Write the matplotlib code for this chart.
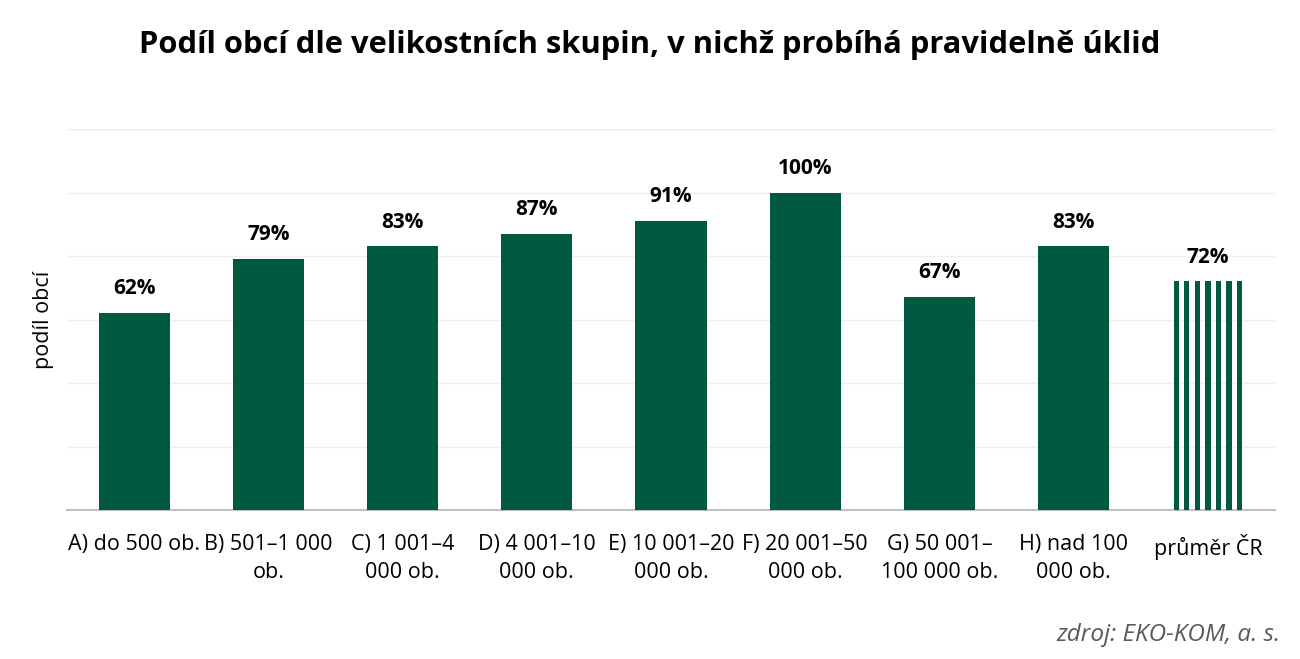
import numpy as np
import matplotlib.pyplot as plt

plt.rcParams['font.family'] = ['Open Sans', 'DejaVu Sans']

categories = ["A) do 500 ob.", "B) 501–1 000\nob.", "C) 1 001–4\n000 ob.",
              "D) 4 001–10\n000 ob.", "E) 10 001–20\n000 ob.", "F) 20 001–50\n000 ob.",
              "G) 50 001–\n100 000 ob.", "H) nad 100\n000 ob.", "průměr ČR"]
shares = [62, 79, 83, 87, 91, 100, 67, 83]
average = 72

green = "#005a41"

fig = plt.figure(figsize=(13, 6.59), dpi=100)
ax = fig.add_axes([67/1300, 1-510/659, 1208/1300, 381/659])

x = np.arange(len(categories))
ax.bar(x[:8], shares, width=0.53, color=green, zorder=3)

# prumer CR - pruhovany sloupec
n_str = 7
w_avg = 0.51
step = w_avg / (n_str - 0.5)
for k in range(n_str):
    ax.bar(x[8] - w_avg/2 + step/4 + k*step, average, width=step*0.5, color=green, zorder=3)

for xi, v in zip(x, shares + [average]):
    ax.annotate(f"{v}%", (xi, v), xytext=(0, 10), textcoords="offset points",
                ha="center", va="bottom", fontsize=15, fontweight="bold", color="black")

ax.set_xlim(-0.5, len(categories)-0.5)
ax.set_ylim(0, 120)
ax.set_yticks(np.arange(0, 121, 20))
ax.set_yticklabels([])
ax.tick_params(axis='y', length=0)
ax.tick_params(axis='x', length=0, pad=17)
ax.set_xticks(x)
ax.set_xticklabels(categories, fontsize=15.5, linespacing=1.45, va="top")
ax.grid(axis='y', color="#eeeeee", linewidth=1, zorder=0)
for s in ["top", "right", "left"]:
    ax.spines[s].set_visible(False)
ax.spines["bottom"].set_color("#bfbfbf")
ax.spines["bottom"].set_linewidth(1.5)
ax.set_ylabel("podíl obcí", fontsize=15.5, labelpad=6)

fig.text(650/1300, 1-45/659, "Podíl obcí dle velikostních skupin, v nichž probíhá pravidelně úklid",
         ha="center", va="center", fontsize=22.2, fontweight="bold", color="black")
fig.text(1280/1300, 1-635/659, "zdroj: EKO-KOM, a. s.", ha="right", va="center",
         fontsize=17.5, style="italic", color="#595959")

fig.savefig("out.png", dpi=100)
